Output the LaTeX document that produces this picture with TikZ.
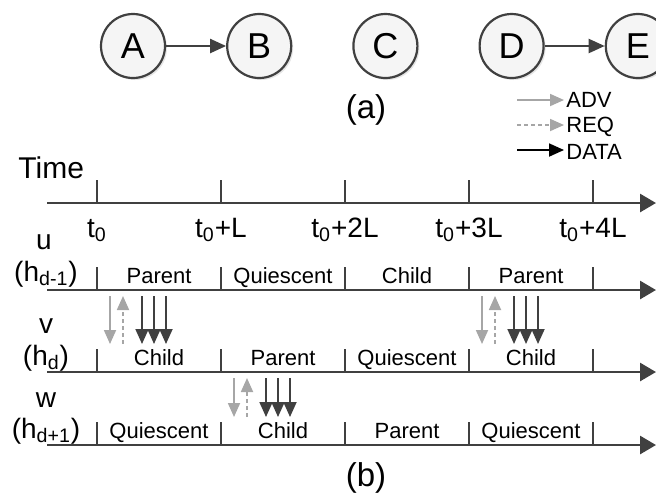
\documentclass[tikz,border=0pt]{standalone}
\usepackage{fontspec}
\setmainfont{Liberation Sans}
\usetikzlibrary{positioning,arrows.meta,shadows}
\definecolor{darkline}{HTML}{404040}
\definecolor{advgray}{HTML}{A6A6A6}
\newcommand{\fsz}[1]{\fontsize{#1}{#1}\selectfont}

\begin{document}
\begin{tikzpicture}[
  x=0.5pt, y=-0.5pt,
  node distance=30pt,
  mystate/.style={draw=darkline,circle,line width=1.1pt,minimum size=32pt,inner sep=0pt,
    fill=gray!8,drop shadow={opacity=0.2,shadow xshift=1pt,shadow yshift=-1pt},font=\fsz{18}},
  mylink/.style={darkline,line width=1.1pt,-{Triangle[length=8pt,width=7pt]}},
  myaxis/.style={darkline,line width=1.4pt,-{Triangle[length=8pt,width=9pt]}},
  mytick/.style={darkline,line width=1.4pt},
  myadv/.style={advgray,line width=0.9pt,-{Triangle[length=7pt,width=6pt]}},
  myreq/.style={myadv,dash pattern=on 2pt off 1.5pt},
  mydata/.style={darkline,line width=0.9pt,-{Triangle[length=7.5pt,width=6.5pt]}},
  mylegend/.style={anchor=west,inner sep=1pt,font=\fsz{11}},
  myslot/.style={anchor=base,font=\fsz{11}},
  mytime/.style={anchor=base,font=\fsz{14}},
  myrow/.style={anchor=base,font=\fsz{14}},
  mycap/.style={font=\fsz{16.5}}
]
\useasboundingbox (0,0) rectangle (656,500);

% (a) nodes
\node[mystate] (a) at (133,46) {A};
\node[mystate, right=of a] (b) {B};
\node[mystate, right=of b] (c) {C};
\node[mystate, right=of c] (d) {D};
\node[mystate, right=of d] (e) {E};
\path (a) edge[mylink] (b)
      (d) edge[mylink] (e);
\node[mycap] (capa) at (366,110) {(a)};

% legend
\node[mylegend] (advlbl) at (564,100) {ADV};
\node[mylegend] (reqlbl) at (564,127) {REQ};
\node[mylegend] (datalbl) at (564,152) {DATA};
\coordinate (advfrom) at (517,100);
\coordinate (reqfrom) at (517,125);
\coordinate (datafrom) at (517,150);
\draw[myadv] (advfrom) -- (advlbl.west);
\draw[myreq] (reqfrom) -- (reqlbl.west |- reqfrom);
\draw[mydata,black] (datafrom) -- (datalbl.west |- datafrom);

% (b) time lines
\node[anchor=base east,font=\fsz{15}] (timelbl) at (91,178) {Time};
\foreach \row/\yy in {time/203,u/290,v/372,w/445}{
  \coordinate (\row s) at (47,\yy);
  \coordinate (\row e) at (656,\yy);
  \draw[myaxis] (\row s) -- (\row e);
  \foreach \k/\xx in {0/97,1/221,2/345,3/469,4/593}{
    \coordinate (\row\k) at (\xx,\yy);
    \coordinate (\row\k top) at (\xx,\yy-23);
    \draw[mytick] (\row\k) -- (\row\k top);
  }
}

\node[mytime] (lt0) at (97,237) {t\textsubscript{0}};
\node[mytime] (lt1) at (221,237) {t\textsubscript{0}+L};
\node[mytime] (lt2) at (345,237) {t\textsubscript{0}+2L};
\node[mytime] (lt3) at (469,237) {t\textsubscript{0}+3L};
\node[mytime] (lt4) at (593,237) {t\textsubscript{0}+4L};

\node[myrow] (ulbl) at (44,249) {u};
\node[myrow] (uh) at (46,281) {(h\textsubscript{d-1})};
\node[myrow] (vlbl) at (46,333) {v};
\node[myrow] (vh) at (46,365) {(h\textsubscript{d})};
\node[myrow] (wlbl) at (46,407) {w};
\node[myrow] (wh) at (46,438) {(h\textsubscript{d+1})};

% slot states
\node[myslot] (u1) at (159,283) {Parent};
\node[myslot] (u2) at (283,283) {Quiescent};
\node[myslot] (u3) at (407,283) {Child};
\node[myslot] (u4) at (531,283) {Parent};
\node[myslot] (v1) at (159,365) {Child};
\node[myslot] (v2) at (283,365) {Parent};
\node[myslot] (v3) at (407,365) {Quiescent};
\node[myslot] (v4) at (531,365) {Child};
\node[myslot] (w1) at (159,438) {Quiescent};
\node[myslot] (w2) at (283,438) {Child};
\node[myslot] (w3) at (407,438) {Parent};
\node[myslot] (w4) at (531,438) {Quiescent};

% messages
\foreach \tx/\ya/\yb in {97/290/372,469/290/372,221/372/445}{
  \coordinate (adv\tx s) at (\tx+13,\ya+6);
  \coordinate (adv\tx e) at (\tx+13,\yb-28);
  \draw[myadv] (adv\tx s) -- (adv\tx e);
  \coordinate (req\tx s) at (\tx+26,\yb-28);
  \coordinate (req\tx e) at (\tx+26,\ya+6);
  \draw[myreq] (req\tx s) -- (req\tx e);
  \foreach \dx in {45,57,69}{
    \coordinate (dat\tx\dx s) at (\tx+\dx,\ya+6);
    \coordinate (dat\tx\dx e) at (\tx+\dx,\yb-28);
    \draw[mydata] (dat\tx\dx s) -- (dat\tx\dx e);
  }
}

\node[mycap] (capb) at (366,478) {(b)};
\end{tikzpicture}
\end{document}
